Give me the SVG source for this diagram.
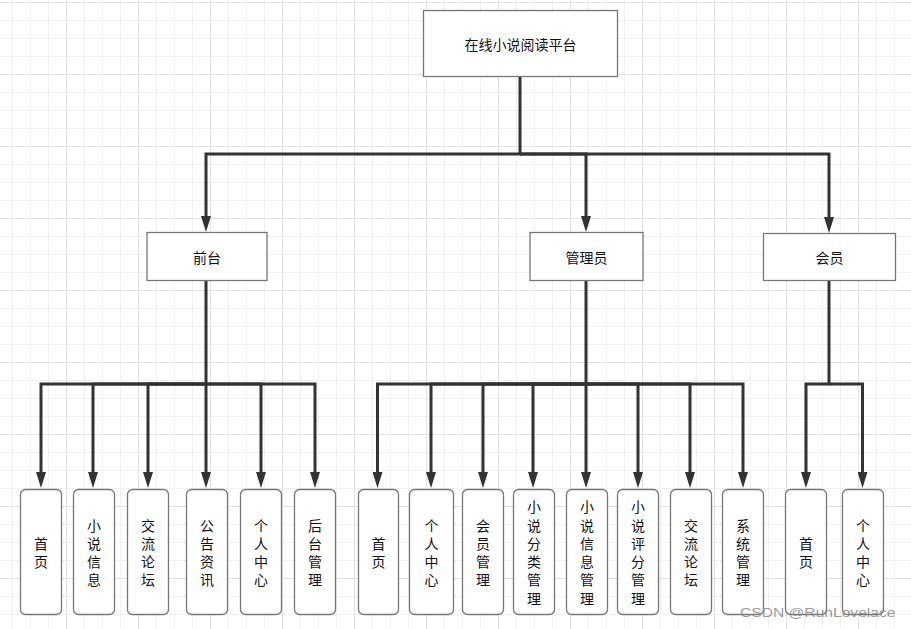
<svg xmlns="http://www.w3.org/2000/svg" width="911" height="629" viewBox="0 0 911 629">
<style>
.box{fill:#fff;stroke:#777;stroke-width:1.3}
.leaf{fill:#fff;stroke:#777;stroke-width:1.3}
.lbl{font-family:"Noto Sans CJK SC","Liberation Sans",sans-serif;font-size:14px;fill:#111;text-anchor:middle;dominant-baseline:central}
.vl{font-family:"Noto Sans CJK SC","Liberation Sans",sans-serif;font-size:14px;fill:#111;text-anchor:middle;dominant-baseline:central}
.con{fill:none;stroke:#333;stroke-width:3}
.wm{font-family:"Liberation Sans",Arial,sans-serif;font-size:12.5px;fill:#8a8a8a;opacity:0.85}
</style>
<defs>
<pattern id="grid" patternUnits="userSpaceOnUse" x="-6" y="2" width="72" height="72">
<path d="M18.5,0V72M36.5,0V72M54.5,0V72M0,18.5H72M0,36.5H72M0,54.5H72" stroke="#f0f0f0" stroke-width="1" fill="none"/>
<path d="M0.5,0V72M0,0.5H72" stroke="#e2e2e2" stroke-width="1" fill="none"/>
</pattern>
<marker id="arr" viewBox="0 0 16 10" refX="0" refY="5" markerWidth="16" markerHeight="10" orient="auto" markerUnits="userSpaceOnUse">
<path d="M0,0L16,5L0,10z" fill="#333"/>
</marker>
</defs>
<rect width="911" height="629" fill="#fff"/>
<rect width="911" height="629" fill="url(#grid)"/>

<g id="connectors">
<path class="con" d="M520,77V154H206V216" marker-end="url(#arr)"/>
<path class="con" d="M520,154H586V216" marker-end="url(#arr)"/>
<path class="con" d="M520,154H829V217" marker-end="url(#arr)"/>

<path class="con" d="M206,281V384H41V472" marker-end="url(#arr)"/>
<path class="con" d="M206,384H93V472" marker-end="url(#arr)"/>
<path class="con" d="M206,384H148V472" marker-end="url(#arr)"/>
<path class="con" d="M206,384V472" marker-end="url(#arr)"/>
<path class="con" d="M206,384H261V472" marker-end="url(#arr)"/>
<path class="con" d="M206,384H315V472" marker-end="url(#arr)"/>

<path class="con" d="M586,281V384H377.5V472" marker-end="url(#arr)"/>
<path class="con" d="M586,384H431V472" marker-end="url(#arr)"/>
<path class="con" d="M586,384H483V472" marker-end="url(#arr)"/>
<path class="con" d="M586,384H533V472" marker-end="url(#arr)"/>
<path class="con" d="M586,384V472" marker-end="url(#arr)"/>
<path class="con" d="M586,384H638V472" marker-end="url(#arr)"/>
<path class="con" d="M586,384H690V472" marker-end="url(#arr)"/>
<path class="con" d="M586,384H743V472" marker-end="url(#arr)"/>

<path class="con" d="M829,281V384H806V472" marker-end="url(#arr)"/>
<path class="con" d="M829,384H862.5V472" marker-end="url(#arr)"/>
</g>

<g id="root">
<rect class="box" x="423.5" y="10.5" width="194" height="66"/>
<text class="lbl" x="520.5" y="44">在线小说阅读平台</text>
</g>
<g id="qiantai">
<rect class="box" x="147" y="232.5" width="120" height="48"/>
<text class="lbl" x="207" y="256.5">前台</text>
</g>
<g id="admin">
<rect class="box" x="530" y="232.5" width="113" height="48"/>
<text class="lbl" x="586.5" y="256.5">管理员</text>
</g>
<g id="member">
<rect class="box" x="763.5" y="233.5" width="132" height="47"/>
<text class="lbl" x="829.5" y="257">会员</text>
</g>

<g id="f1"><rect class="leaf" x="20.5" y="489.5" width="41" height="125" rx="5"/>
<text class="vl"><tspan x="41" y="542.8">首</tspan><tspan x="41" y="561.1">页</tspan></text></g>
<g id="f2"><rect class="leaf" x="73.5" y="489.5" width="41" height="125" rx="5"/>
<text class="vl"><tspan x="94" y="524.5">小</tspan><tspan x="94" y="542.8">说</tspan><tspan x="94" y="561.1">信</tspan><tspan x="94" y="579.4">息</tspan></text></g>
<g id="f3"><rect class="leaf" x="127.5" y="489.5" width="41" height="125" rx="5"/>
<text class="vl"><tspan x="148" y="524.5">交</tspan><tspan x="148" y="542.8">流</tspan><tspan x="148" y="561.1">论</tspan><tspan x="148" y="579.4">坛</tspan></text></g>
<g id="f4"><rect class="leaf" x="186.5" y="489.5" width="41" height="125" rx="5"/>
<text class="vl"><tspan x="207" y="524.5">公</tspan><tspan x="207" y="542.8">告</tspan><tspan x="207" y="561.1">资</tspan><tspan x="207" y="579.4">讯</tspan></text></g>
<g id="f5"><rect class="leaf" x="240.5" y="489.5" width="41" height="125" rx="5"/>
<text class="vl"><tspan x="261" y="524.5">个</tspan><tspan x="261" y="542.8">人</tspan><tspan x="261" y="561.1">中</tspan><tspan x="261" y="579.4">心</tspan></text></g>
<g id="f6"><rect class="leaf" x="294.5" y="489.5" width="41" height="125" rx="5"/>
<text class="vl"><tspan x="315" y="524.5">后</tspan><tspan x="315" y="542.8">台</tspan><tspan x="315" y="561.1">管</tspan><tspan x="315" y="579.4">理</tspan></text></g>

<g id="m1"><rect class="leaf" x="358.5" y="489.5" width="40" height="125" rx="5"/>
<text class="vl"><tspan x="378.5" y="542.8">首</tspan><tspan x="378.5" y="561.1">页</tspan></text></g>
<g id="m2"><rect class="leaf" x="409.5" y="489.5" width="44" height="125" rx="5"/>
<text class="vl"><tspan x="431.5" y="524.5">个</tspan><tspan x="431.5" y="542.8">人</tspan><tspan x="431.5" y="561.1">中</tspan><tspan x="431.5" y="579.4">心</tspan></text></g>
<g id="m3"><rect class="leaf" x="462.5" y="489.5" width="41" height="125" rx="5"/>
<text class="vl"><tspan x="483" y="524.5">会</tspan><tspan x="483" y="542.8">员</tspan><tspan x="483" y="561.1">管</tspan><tspan x="483" y="579.4">理</tspan></text></g>
<g id="m4"><rect class="leaf" x="513.5" y="489.5" width="41" height="125" rx="5"/>
<text class="vl"><tspan x="534" y="506.2">小</tspan><tspan x="534" y="524.5">说</tspan><tspan x="534" y="542.8">分</tspan><tspan x="534" y="561.1">类</tspan><tspan x="534" y="579.4">管</tspan><tspan x="534" y="597.7">理</tspan></text></g>
<g id="m5"><rect class="leaf" x="566.5" y="489.5" width="41" height="125" rx="5"/>
<text class="vl"><tspan x="587" y="506.2">小</tspan><tspan x="587" y="524.5">说</tspan><tspan x="587" y="542.8">信</tspan><tspan x="587" y="561.1">息</tspan><tspan x="587" y="579.4">管</tspan><tspan x="587" y="597.7">理</tspan></text></g>
<g id="m6"><rect class="leaf" x="617.5" y="489.5" width="41" height="125" rx="5"/>
<text class="vl"><tspan x="638" y="506.2">小</tspan><tspan x="638" y="524.5">说</tspan><tspan x="638" y="542.8">评</tspan><tspan x="638" y="561.1">分</tspan><tspan x="638" y="579.4">管</tspan><tspan x="638" y="597.7">理</tspan></text></g>
<g id="m7"><rect class="leaf" x="670.5" y="489.5" width="41" height="125" rx="5"/>
<text class="vl"><tspan x="691" y="524.5">交</tspan><tspan x="691" y="542.8">流</tspan><tspan x="691" y="561.1">论</tspan><tspan x="691" y="579.4">坛</tspan></text></g>
<g id="m8"><rect class="leaf" x="722.5" y="489.5" width="41" height="125" rx="5"/>
<text class="vl"><tspan x="743" y="524.5">系</tspan><tspan x="743" y="542.8">统</tspan><tspan x="743" y="561.1">管</tspan><tspan x="743" y="579.4">理</tspan></text></g>

<g id="u1"><rect class="leaf" x="785.5" y="489.5" width="41" height="125" rx="5"/>
<text class="vl"><tspan x="806" y="542.8">首</tspan><tspan x="806" y="561.1">页</tspan></text></g>
<g id="u2"><rect class="leaf" x="842.5" y="489.5" width="41" height="125" rx="5"/>
<text class="vl"><tspan x="863" y="524.5">个</tspan><tspan x="863" y="542.8">人</tspan><tspan x="863" y="561.1">中</tspan><tspan x="863" y="579.4">心</tspan></text></g>

<text class="wm" transform="translate(740,617) scale(1.25,1)">CSDN @RunLovelace</text>
</svg>
